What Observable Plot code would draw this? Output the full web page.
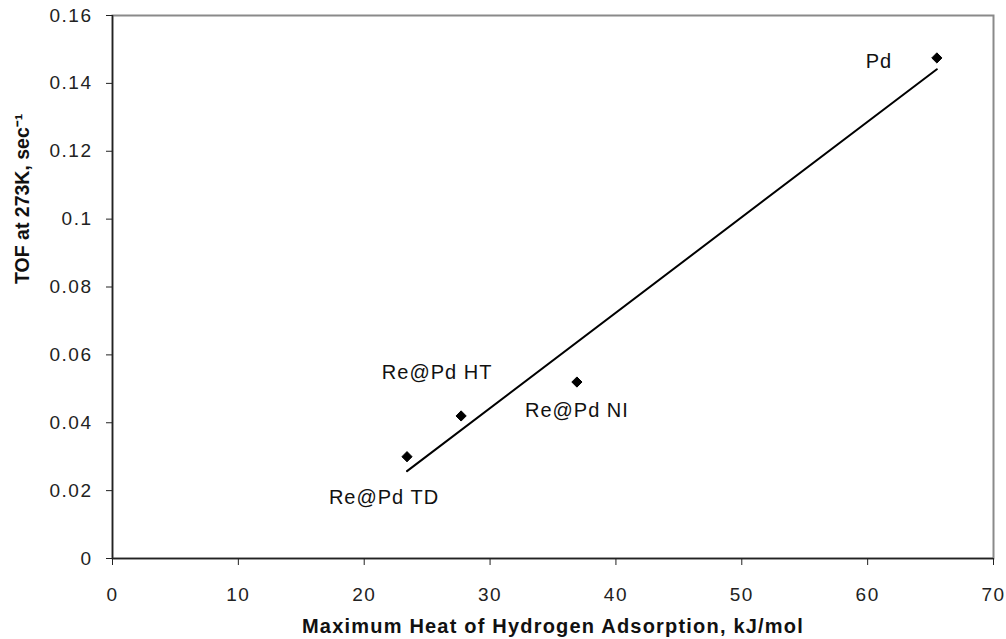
<!DOCTYPE html>
<html>
<head>
<meta charset="utf-8">
<script src="https://cdn.jsdelivr.net/npm/d3@7"></script>
<script src="https://cdn.jsdelivr.net/npm/@observablehq/plot@0.6"></script>
<style>
  html, body { margin: 0; padding: 0; background: #fff; }
  #chart { width: 1006px; height: 639px; }
  svg text { font-family: "Liberation Sans", Arial, sans-serif; }
</style>
</head>
<body>
<div id="chart"></div>
<script>
const samples = ["Pd", "Re@Pd HT", "Re@Pd TD", "Re@Pd NI"];
const heat = [65.5, 27.7, 23.4, 36.9];
const tof = [0.1475, 0.042, 0.030, 0.052];
const labelDx = [-58, -24, -23, 0];
const labelDy = [4, -43, 41, 29];
const xTicks = [0, 10, 20, 30, 40, 50, 60, 70];
const yTicks = [0, 0.02, 0.04, 0.06, 0.08, 0.1, 0.12, 0.14, 0.16];

const data = samples.map((s, i) => ({name: s, x: heat[i], y: tof[i], dx: labelDx[i], dy: labelDy[i]}));

const labelMarks = data.map(d => Plot.text([d], {
  x: "x", y: "y", text: "name", dx: d.dx, dy: d.dy,
  fontSize: 20, fill: "#111", className: "ptlabel"
}));

const chart = Plot.plot({
  width: 1006,
  height: 639,
  marginLeft: 112,
  marginRight: 13,
  marginTop: 15,
  marginBottom: 81,
  style: {fontFamily: "Liberation Sans, Arial, sans-serif", background: "#fff"},
  x: {domain: [0, 70]},
  y: {domain: [0, 0.16]},
  marks: [
    Plot.frame({stroke: "#8a8a8a", strokeWidth: 2}),
    Plot.axisX({ticks: xTicks, tickFormat: d => String(d), tickSize: 7, tickPadding: 22,
      fontSize: 19, label: null, stroke: "#222", fill: "#222"}),
    Plot.axisY({ticks: yTicks, tickFormat: d => String(d), tickSize: 6, tickPadding: 14,
      fontSize: 19, label: null, stroke: "#222", fill: "#222"}),
    Plot.ruleX([0], {stroke: "#222", strokeWidth: 1.5}),
    Plot.ruleY([0], {stroke: "#222", strokeWidth: 1.5}),
    Plot.linearRegressionY(data, {x: "x", y: "y", ci: 0, stroke: "#000", strokeWidth: 2}),
    Plot.dot(data, {x: "x", y: "y", symbol: "diamond2", r: 4.6, fill: "#000", stroke: "#000", strokeWidth: 1}),
    ...labelMarks,
    Plot.text(["Maximum Heat of Hydrogen Adsorption, kJ/mol"], {
      frameAnchor: "bottom", lineAnchor: "bottom", dy: 74, fontSize: 20, fontWeight: "bold", fill: "#111",
      className: "xtitle"
    }),
    Plot.text(["TOF at 273K, sec⁻¹"], {
      frameAnchor: "left", rotate: -90, dx: -90, dy: -3, fontSize: 19.5, fontWeight: "bold", fill: "#111"
    })
  ]
});
chart.querySelectorAll("g[aria-label='x-axis tick label'] text, g[aria-label='y-axis tick label'] text").forEach(t => t.style.letterSpacing = "1.5px");
chart.querySelectorAll(".ptlabel text").forEach(t => t.style.letterSpacing = "1px");
chart.querySelectorAll(".xtitle text").forEach(t => t.style.letterSpacing = "1.2px");
document.getElementById("chart").appendChild(chart);
</script>
</body>
</html>
